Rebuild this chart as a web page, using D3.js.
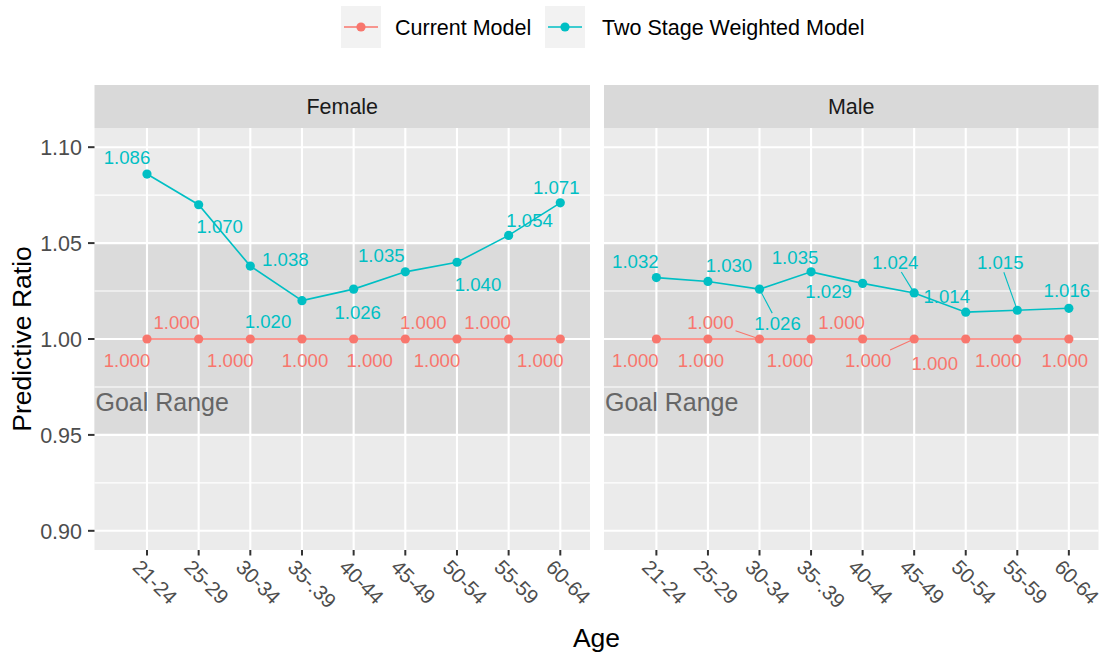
<!DOCTYPE html>
<html>
<head>
<meta charset="utf-8">
<script src="https://cdn.jsdelivr.net/npm/d3@7"></script>
<style>
  html, body { margin: 0; padding: 0; background: #ffffff; }
  svg { display: block; font-family: "Liberation Sans", Arial, sans-serif; }
</style>
</head>
<body>
<svg id="chart" width="1104" height="658"></svg>
<script>
// ---------------- data ----------------
const ageGroups = ["21-24", "25-29", "30-34", "35-.39", "40-44", "45-49", "50-54", "55-59", "60-64"];
const panels = ["Female", "Male"];
const seriesNames = ["Current Model", "Two Stage Weighted Model"];
const currentFemale = [1.000, 1.000, 1.000, 1.000, 1.000, 1.000, 1.000, 1.000, 1.000];
const twoStageFemale = [1.086, 1.070, 1.038, 1.020, 1.026, 1.035, 1.040, 1.054, 1.071];
const currentMale = [1.000, 1.000, 1.000, 1.000, 1.000, 1.000, 1.000, 1.000, 1.000];
const twoStageMale = [1.032, 1.030, 1.026, 1.035, 1.029, 1.024, 1.014, 1.015, 1.016];
const yTicks = [0.90, 0.95, 1.00, 1.05, 1.10];
const yMinorTicks = [0.925, 0.975, 1.025, 1.075];
const goalRange = [0.95, 1.05];
const goalLabel = "Goal Range";
const xTitle = "Age";
const yTitle = "Predictive Ratio";

// ---------------- layout (label offsets in px, repel-like placement) ----------------
const labelOffsets = {
  Female: {
    current: [[-20, 21], [-22, -17], [-20, 21], [3, 21], [16, 21], [18, -17], [-20, 21], [-21, -17], [-20, 21]],
    twoStage: [[-20, -17], [21, 22], [35, -7], [-34, 21], [4, 23], [-24, -17], [21, 22], [21, -15], [-4, -16]]
  },
  Male: {
    current: [[-21, 21], [-7, 21], [-49, -17], [-21, 21], [-21, -17], [-46, 21], [-31, 24], [-19, 21], [-4, 21]],
    twoStage: [[-21, -16], [21, -16], [18, 34], [-16, -15], [-34, 8], [-19, -31], [-19, -16], [-17, -48], [-2, -18]]
  }
};
const segmentFlags = {
  Female: { current: [0,0,0,0,0,0,0,0,0], twoStage: [0,0,0,0,0,0,0,0,0] },
  Male: { current: [0,0,1,0,0,1,0,0,0], twoStage: [0,0,1,0,0,1,0,1,0] }
};

const colors = { current: "#F8766D", twoStage: "#00BFC4" };
const W = 1104, H = 658;
const panelTop = 128, panelBottom = 550, stripTop = 85;
const panelBoxes = { Female: [94.5, 590], Male: [604, 1098.5] };
const baseFont = 21.5;

const svg = d3.select("#chart");

const y = d3.scaleLinear().domain([0.89, 1.11]).range([panelBottom, panelTop]);

const dataByPanel = {
  Female: { current: currentFemale, twoStage: twoStageFemale },
  Male: { current: currentMale, twoStage: twoStageMale }
};

panels.forEach(p => {
  const [L, R] = panelBoxes[p];
  const x = d3.scaleLinear().domain([-1.016, 8.575]).range([L, R]);
  const g = svg.append("g");

  // panel background
  g.append("rect").attr("x", L).attr("y", panelTop).attr("width", R - L).attr("height", panelBottom - panelTop).attr("fill", "#EBEBEB");
  // goal rect
  g.append("rect").attr("x", L).attr("y", y(goalRange[1])).attr("width", R - L)
    .attr("height", y(goalRange[0]) - y(goalRange[1])).attr("fill", "#DBDBDB");

  // minor grid
  yMinorTicks.forEach(t => {
    g.append("line").attr("x1", L).attr("x2", R).attr("y1", y(t)).attr("y2", y(t))
      .attr("stroke", "#ffffff").attr("stroke-width", 1.1);
  });
  // major grid
  yTicks.forEach(t => {
    g.append("line").attr("x1", L).attr("x2", R).attr("y1", y(t)).attr("y2", y(t))
      .attr("stroke", "#ffffff").attr("stroke-width", 2.1);
  });
  ageGroups.forEach((a, i) => {
    g.append("line").attr("x1", x(i)).attr("x2", x(i)).attr("y1", panelTop).attr("y2", panelBottom)
      .attr("stroke", "#ffffff").attr("stroke-width", 2.1);
  });

  // goal label
  g.append("text").attr("x", L + 1).attr("y", y(0.967)).attr("dy", "0.35em")
    .attr("font-size", 25).attr("fill", "#666666").text(goalLabel);

  // strip
  g.append("rect").attr("x", L).attr("y", stripTop).attr("width", R - L).attr("height", panelTop - stripTop).attr("fill", "#D9D9D9");
  g.append("text").attr("x", (L + R) / 2).attr("y", (stripTop + panelTop) / 2).attr("dy", "0.36em")
    .attr("text-anchor", "middle").attr("font-size", baseFont).attr("fill", "#1A1A1A").text(p);

  // x axis ticks + labels
  ageGroups.forEach((a, i) => {
    g.append("line").attr("x1", x(i)).attr("x2", x(i)).attr("y1", panelBottom).attr("y2", panelBottom + 5.5)
      .attr("stroke", "#333333").attr("stroke-width", 2);
    g.append("text").attr("transform", `translate(${x(i)},${panelBottom + 3}) rotate(45)`)
      .attr("x", 0).attr("y", 22).attr("text-anchor", "start")
      .attr("font-size", 20.5).attr("fill", "#4D4D4D").text(a);
  });

  // series
  ["current", "twoStage"].forEach(key => {
    const vals = dataByPanel[p][key];
    const line = d3.line().x((d, i) => x(i)).y(d => y(d));
    g.append("path").datum(vals).attr("d", line).attr("fill", "none")
      .attr("stroke", colors[key]).attr("stroke-width", 1.6);
    g.selectAll(null).data(vals).enter().append("circle")
      .attr("cx", (d, i) => x(i)).attr("cy", d => y(d)).attr("r", 4.6).attr("fill", colors[key]);
  });

  // labels
  ["current", "twoStage"].forEach(key => {
    const vals = dataByPanel[p][key];
    vals.forEach((v, i) => {
      const px = x(i), py = y(v);
      const [dx, dy] = labelOffsets[p][key][i];
      const lx = px + dx, ly = py + dy;
      if (segmentFlags[p][key][i]) {
        const hw = 25, hh = 10;
        const vx = lx - px, vy = ly - py;
        const tBox = Math.min(Math.abs(vx) > 0 ? hw / Math.abs(vx) : Infinity, Math.abs(vy) > 0 ? hh / Math.abs(vy) : Infinity);
        const len = Math.hypot(vx, vy);
        const t0 = 3 / len, t1 = 1 - tBox;
        if (t1 > t0) {
          g.append("line").attr("x1", px + vx * t0).attr("y1", py + vy * t0)
            .attr("x2", px + vx * t1).attr("y2", py + vy * t1)
            .attr("stroke", colors[key]).attr("stroke-width", 1.1);
        }
      }
      g.append("text").attr("x", lx).attr("y", ly).attr("dy", "0.36em")
        .attr("text-anchor", "middle").attr("font-size", 18.6).attr("fill", colors[key])
        .text(d3.format(".3f")(v));
    });
  });
});

// y axis (left panel only)
const yAxisX = panelBoxes.Female[0];
yTicks.forEach(t => {
  svg.append("line").attr("x1", yAxisX - 6.5).attr("x2", yAxisX).attr("y1", y(t)).attr("y2", y(t))
    .attr("stroke", "#333333").attr("stroke-width", 2);
  svg.append("text").attr("x", yAxisX - 12.5).attr("y", y(t)).attr("dy", "0.36em")
    .attr("text-anchor", "end").attr("font-size", baseFont).attr("fill", "#4D4D4D")
    .text(d3.format(".2f")(t));
});

// axis titles
svg.append("text").attr("transform", `translate(31,${(panelTop + panelBottom) / 2}) rotate(-90)`)
  .attr("text-anchor", "middle").attr("font-size", 26.5).attr("fill", "#000000").text(yTitle);
svg.append("text").attr("x", (panelBoxes.Female[0] + panelBoxes.Male[1]) / 2).attr("y", 647)
  .attr("text-anchor", "middle").attr("font-size", 26.5).attr("fill", "#000000").text(xTitle);

// legend
const legendItems = [
  { name: seriesNames[0], color: colors.current, kx: 341, tx: 395 },
  { name: seriesNames[1], color: colors.twoStage, kx: 545, tx: 602 }
];
legendItems.forEach(it => {
  const lg = svg.append("g");
  lg.append("rect").attr("x", it.kx).attr("y", 6).attr("width", 40).attr("height", 42).attr("fill", "#F2F2F2");
  lg.append("line").attr("x1", it.kx + 3).attr("x2", it.kx + 37).attr("y1", 27).attr("y2", 27)
    .attr("stroke", it.color).attr("stroke-width", 1.6);
  lg.append("circle").attr("cx", it.kx + 20).attr("cy", 27).attr("r", 4.6).attr("fill", it.color);
  lg.append("text").attr("x", it.tx).attr("y", 27).attr("dy", "0.36em")
    .attr("font-size", baseFont).attr("fill", "#000000").text(it.name);
});
</script>
</body>
</html>
